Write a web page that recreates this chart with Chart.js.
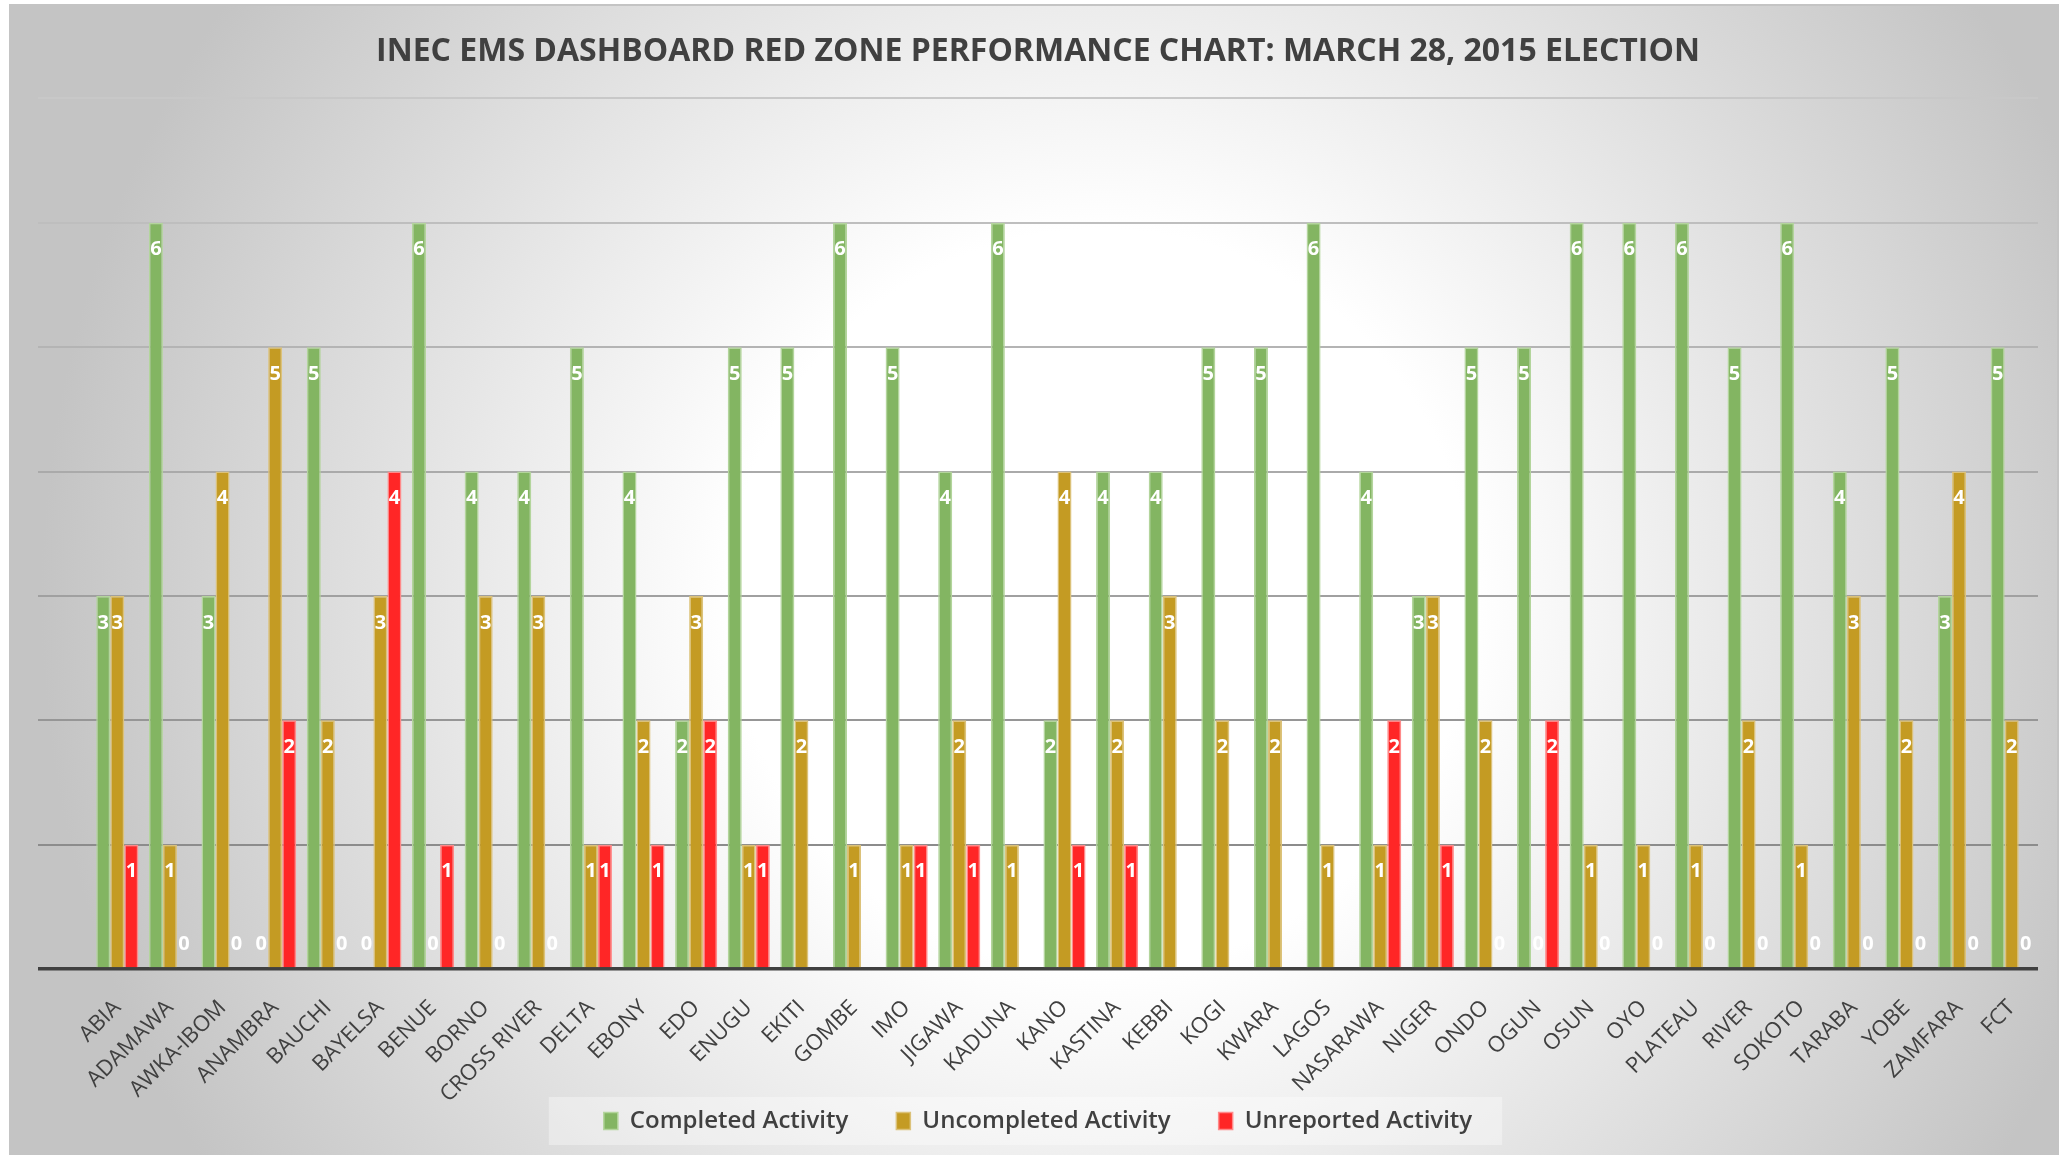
<!DOCTYPE html>
<html>
<head>
<meta charset="utf-8">
<title>INEC EMS Dashboard Red Zone Performance</title>
<script src="https://cdn.jsdelivr.net/npm/chart.js@4.4.1/dist/chart.umd.min.js"></script>
<style>
  html,body{margin:0;padding:0;background:#fff;overflow:hidden;}
  #wrap{position:absolute;left:9px;top:4px;width:2046px;height:1149px;border:2px solid #c4c4c4;}
  #chart{display:block;}
</style>
</head>
<body>
<div id="wrap"><canvas id="chart" width="2046" height="1149"></canvas></div>
<script>
// states (x categories)
const states = ['ABIA','ADAMAWA','AWKA-IBOM','ANAMBRA','BAUCHI','BAYELSA','BENUE','BORNO','CROSS RIVER','DELTA',
  'EBONY','EDO','ENUGU','EKITI','GOMBE','IMO','JIGAWA','KADUNA','KANO','KASTINA','KEBBI','KOGI','KWARA','LAGOS',
  'NASARAWA','NIGER','ONDO','OGUN','OSUN','OYO','PLATEAU','RIVER','SOKOTO','TARABA','YOBE','ZAMFARA','FCT'];

// series values (null = no bar / no label in the original)
const completed   = [3,6,3,0,5,0,6,4,4,5, 4,2,5,5,6,5,4,6,2,4,4,5,5,6, 4,3,5,5,6,6,6,5,6,4,5,3,5];
const uncompleted = [3,1,4,5,2,3,0,3,3,1, 2,3,1,2,1,1,2,1,4,2,3,2,2,1, 1,3,2,0,1,1,1,2,1,3,2,4,2];
const unreported  = [1,0,0,2,0,4,1,0,0,1, 1,2,1,null,null,1,1,null,1,1,null,null,null,null, 2,1,0,2,0,0,0,0,0,0,0,0,0];

const seriesNames = ['Completed Activity','Uncompleted Activity','Unreported Activity'];
const yTicks = [0,1,2,3,4,5,6,7];

const DARK = '#404040';
const FONT = '"Open Sans", sans-serif';

// radial grey background + faint band behind the legend
const bgPlugin = {
  id:'bg',
  beforeDraw(chart){
    const {ctx, width, height} = chart;
    ctx.save();
    const g = ctx.createRadialGradient(1090, 594, 0, 1090, 594, 1060);
    g.addColorStop(0, '#ffffff');
    g.addColorStop(0.35, '#ffffff');
    g.addColorStop(1, '#c4c4c4');
    ctx.fillStyle = g;
    ctx.fillRect(0, 0, width, height);
    const hb = chart.legend && chart.legend.legendHitBoxes;
    if (hb && hb.length){
      const last = hb[hb.length-1];
      const l = hb[0].left - 55, r = last.left + last.width + 30;
      const mid = hb[0].top + hb[0].height / 2;
      ctx.fillStyle = 'rgba(255,255,255,0.35)';
      ctx.fillRect(l, mid - 24, r - l, 48);
    }
    ctx.restore();
  },
  // rotated state names run below the (short) x scale box: don't clip them
  afterLayout(chart){
    chart.scales.x._computeLabelArea = () => null;
  }
};

// white value labels inside the bar ends
const valueLabels = {
  id:'valueLabels',
  afterDatasetsDraw(chart){
    const {ctx} = chart;
    ctx.save();
    ctx.font = 'bold 20px ' + FONT;
    ctx.fillStyle = '#ffffff';
    ctx.textAlign = 'center';
    ctx.textBaseline = 'middle';
    chart.data.datasets.forEach((ds, di) => {
      const meta = chart.getDatasetMeta(di);
      meta.data.forEach((bar, i) => {
        const v = ds.data[i];
        if (v === null || v === undefined) return;
        const y = v === 0 ? bar.base - 25 : bar.y + 27;
        ctx.fillText(String(v), bar.x, y);
      });
    });
    ctx.restore();
  }
};

function gridGrey(v){
  if (v === 0) return DARK;
  const c = 140 + (v - 1) * 10;
  return 'rgb(' + c + ',' + c + ',' + c + ')';
}

new Chart(document.getElementById('chart'), {
  type:'bar',
  data:{
    labels: states,
    datasets:[
      {label:seriesNames[0], data:completed,   backgroundColor:'#83b562', borderColor:'#b3d59c', borderWidth:1.5},
      {label:seriesNames[1], data:uncompleted, backgroundColor:'#c49b23', borderColor:'#dcc27a', borderWidth:1.5},
      {label:seriesNames[2], data:unreported,  backgroundColor:'#ff2626', borderColor:'#ff8a8a', borderWidth:1.5}
    ]
  },
  options:{
    responsive:false,
    animation:false,
    devicePixelRatio:1,
    categoryPercentage:0.8,
    barPercentage:1.0,
    layout:{padding:{left:27, right:19, top:0, bottom:12}},
    plugins:{
      title:{
        display:true,
        text:'INEC EMS DASHBOARD RED ZONE PERFORMANCE CHART: MARCH 28, 2015 ELECTION',
        color:DARK,
        font:{family:FONT, size:32, weight:'bold'},
        padding:{top:27, bottom:27}
      },
      legend:{
        position:'bottom',
        labels:{
          color:DARK,
          font:{family:FONT, size:24, weight:'600'},
          boxWidth:14,
          boxHeight:17,
          padding:48
        }
      },
      tooltip:{enabled:false}
    },
    scales:{
      x:{
        grid:{display:false},
        border:{display:false},
        ticks:{
          color:DARK,
          font:{family:FONT, size:22},
          minRotation:45, maxRotation:45,
          autoSkip:false,
          padding:18
        },
        afterFit(s){ s.height = 92; }
      },
      y:{
        min:0, max:7,
        afterBuildTicks(s){ s.ticks = yTicks.map(v => ({value:v})); },
        border:{display:false},
        grid:{
          color:c => gridGrey(c.tick.value),
          tickColor:c => gridGrey(c.tick.value),
          lineWidth:c => c.tick.value === 0 ? 3.5 : 2,
          tickWidth:c => c.tick.value === 0 ? 3.5 : 2,
          drawTicks:true,
          tickLength:53
        },
        ticks:{color:'transparent', padding:0},
        afterFit(s){ s.width = 53; }
      }
    }
  },
  plugins:[bgPlugin, valueLabels]
});
</script>
</body>
</html>
